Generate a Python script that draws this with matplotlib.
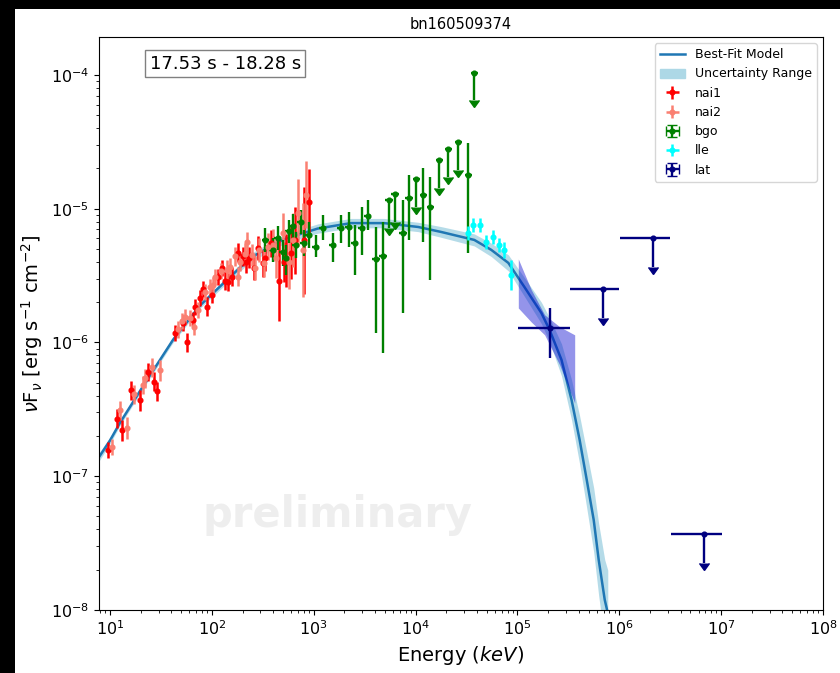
import numpy as np
import matplotlib
matplotlib.use("Agg")
import matplotlib.pyplot as plt
from matplotlib.patches import Rectangle, Patch
from matplotlib.ticker import NullFormatter, LogLocator

title = "bn160509374"
time_label = "17.53 s - 18.28 s"
watermark = "preliminary"
x_ticks = [1e1, 1e2, 1e3, 1e4, 1e5, 1e6, 1e7, 1e8]
y_ticks = [1e-8, 1e-7, 1e-6, 1e-5, 1e-4]

# ---- best-fit model ----
model_energy = [7.8, 10, 12.5, 22.1, 41.7, 77, 152, 240, 506, 1094, 2318, 4898, 10590,
                17800, 37700, 55400, 81500, 1.17e5, 1.72e5, 2.07e5, 2.71e5, 3.40e5,
                4.08e5, 4.79e5, 5.61e5, 6.28e5, 7.20e5, 7.71e5]
model_flux = [1.39e-7, 1.85e-7, 2.5e-7, 4.98e-7, 1.05e-6, 1.9e-6, 3.1e-6, 4.3e-6, 5.9e-6,
              7.1e-6, 7.8e-6, 7.8e-6, 7.3e-6, 6.7e-6, 5.84e-6, 4.92e-6, 3.93e-6, 2.60e-6,
              1.66e-6, 1.24e-6, 7.4e-7, 3.72e-7, 1.87e-7, 9.4e-8, 4.71e-8, 2.37e-8,
              1.19e-8, 9.5e-9]
model_band_dex = [0.03, 0.025, 0.02, 0.02, 0.02, 0.02, 0.025, 0.03, 0.035, 0.035, 0.035,
                  0.035, 0.035, 0.04, 0.045, 0.05, 0.06, 0.07, 0.08, 0.09, 0.12, 0.15,
                  0.18, 0.21, 0.24, 0.27, 0.3, 0.32]

# ---- nai1 ----
nai1_energy = [9.56, 11.7, 13.1, 16.1, 19.8, 23.7, 27.1, 29.0, 43.7, 52.4, 57.4, 65.7,
               68.7, 77, 82.6, 90, 101, 116, 127, 136, 145, 159, 179, 200, 214, 229, 257,
               286, 315, 336, 377, 452, 506, 530, 593, 660, 795, 890]
nai1_flux = [1.57e-7, 2.7e-7, 2.2e-7, 4.4e-7, 3.7e-7, 6.0e-7, 5.1e-7, 4.3e-7, 1.18e-6,
             1.39e-6, 1.0e-6, 1.47e-6, 1.85e-6, 2.16e-6, 2.5e-6, 1.85e-6, 2.25e-6, 3.1e-6,
             3.6e-6, 2.9e-6, 2.83e-6, 3.1e-6, 4.7e-6, 4.4e-6, 4.0e-6, 4.3e-6, 3.6e-6,
             5.1e-6, 3.9e-6, 4.28e-6, 5.5e-6, 2.9e-6, 4.0e-6, 4.1e-6, 4.7e-6, 5.8e-6,
             5.8e-6, 1.12e-5]
nai1_err_dex = [0.06, 0.07, 0.08, 0.07, 0.08, 0.07, 0.07, 0.07, 0.06, 0.06, 0.07, 0.06,
                0.06, 0.06, 0.06, 0.07, 0.06, 0.06, 0.06, 0.07, 0.07, 0.07, 0.07, 0.07,
                0.08, 0.08, 0.09, 0.09, 0.1, 0.1, 0.1, 0.3, 0.15, 0.2, 0.2, 0.25, 0.4, 0.25]

# ---- nai2 ----
nai2_energy = [10.5, 12.5, 14.7, 17.2, 21.2, 22.1, 25.9, 31.1, 46.7, 51.3, 54.9, 61.4,
               66.5, 73.7, 86.6, 96.9, 103, 108, 124, 142, 152, 170, 182, 191, 213, 223,
               250, 268, 290, 322, 353, 394, 424, 495, 567, 621, 694, 780, 836]
nai2_flux = [1.65e-7, 3.1e-7, 2.3e-7, 4.1e-7, 4.8e-7, 5.4e-7, 6.5e-7, 6.2e-7, 1.25e-6,
             1.44e-6, 1.55e-6, 1.52e-6, 1.3e-6, 1.75e-6, 2.4e-6, 2.6e-6, 2.7e-6, 3.1e-6,
             3.4e-6, 3.5e-6, 3.65e-6, 4.4e-6, 3.1e-6, 4.0e-6, 4.6e-6, 5.6e-6, 4.5e-6,
             3.6e-6, 4.9e-6, 3.9e-6, 5.2e-6, 5.36e-6, 4.28e-6, 6.6e-6, 4.0e-6, 5.84e-6,
             9.3e-6, 4.9e-6, 1.27e-5]
nai2_err_dex = [0.06, 0.07, 0.08, 0.07, 0.07, 0.07, 0.07, 0.08, 0.06, 0.06, 0.06, 0.06,
                0.06, 0.06, 0.06, 0.06, 0.06, 0.06, 0.06, 0.07, 0.07, 0.07, 0.07, 0.07,
                0.08, 0.08, 0.08, 0.09, 0.09, 0.1, 0.1, 0.12, 0.15, 0.15, 0.2, 0.2, 0.25,
                0.35, 0.25]

# ---- bgo ----
bgo_energy = [336, 394, 442, 495, 530, 567, 621, 665, 745, 797, 893, 1047, 1227, 1540,
              1845, 2212, 2535, 2970, 3404, 4083, 4786, 7534, 8630, 11860, 13900, 32900]
bgo_flux = [5.84e-6, 4.92e-6, 6.04e-6, 4.75e-6, 4.28e-6, 6.82e-6, 7.43e-6, 5.36e-6,
            7.96e-6, 5.55e-6, 6.37e-6, 5.18e-6, 7.18e-6, 5.36e-6, 7.18e-6, 7.31e-6,
            5.55e-6, 7.18e-6, 8.83e-6, 4.21e-6, 4.43e-6, 6.59e-6, 1.20e-5, 1.27e-5,
            1.03e-5, 1.79e-5]
bgo_flux_hi = [7.18e-6, 6.04e-6, 7.43e-6, 5.84e-6, 5.36e-6, 8.24e-6, 9.14e-6, 6.70e-6,
               9.8e-6, 6.94e-6, 7.96e-6, 6.37e-6, 8.98e-6, 6.59e-6, 8.98e-6, 9.46e-6,
               7.57e-6, 1.03e-5, 1.16e-5, 7.31e-6, 7.96e-6, 1.16e-5, 1.79e-5, 2.02e-5,
               1.73e-5, 3.10e-5]
bgo_flux_lo = [4.75e-6, 4.00e-6, 4.92e-6, 3.73e-6, 3.20e-6, 5.55e-6, 6.04e-6, 4.28e-6,
               6.48e-6, 4.43e-6, 5.09e-6, 4.36e-6, 5.84e-6, 4.00e-6, 5.55e-6, 5.18e-6,
               3.20e-6, 4.51e-6, 6.94e-6, 1.18e-6, 8.35e-7, 1.66e-6, 5.84e-6, 5.64e-6,
               2.93e-6, 4.67e-6]
bgo_ul_energy = [5483, 6281, 10120, 17060, 20900, 26240, 37700]
bgo_ul_flux = [1.16e-5, 1.29e-5, 1.67e-5, 2.31e-5, 2.80e-5, 3.16e-5, 1.04e-4]

# ---- lle ----
lle_energy = [32900, 36900, 43200, 49500, 58100, 66600, 74600, 87300]
lle_flux = [6.59e-6, 7.57e-6, 7.57e-6, 5.64e-6, 6.15e-6, 5.36e-6, 4.92e-6, 3.20e-6]
lle_err_dex = [0.05, 0.05, 0.05, 0.05, 0.05, 0.05, 0.06, 0.11]

# ---- lat ----
lat_energy = [2.11e5]
lat_flux = [1.28e-6]
lat_flux_hi = [1.81e-6]
lat_flux_lo = [7.66e-7]
lat_emin = [1.02e5]
lat_emax = [3.25e5]
lat_ul_energy = [6.87e5, 2.14e6, 6.8e6]
lat_ul_flux = [2.51e-6, 6.04e-6, 3.70e-8]
lat_ul_emin = [3.25e5, 1.01e6, 3.22e6]
lat_ul_emax = [9.9e5, 3.15e6, 1.02e7]

# ---- lat butterfly ----
butterfly_energy = [1.02e5, 1.37e5, 1.85e5, 2.6e5, 3.65e5]
butterfly_upper = [4.21e-6, 2.47e-6, 1.61e-6, 1.31e-6, 1.14e-6]
butterfly_lower = [1.81e-6, 1.42e-6, 1.14e-6, 6.79e-7, 3.53e-7]


def dex_err(vals, dex):
    v = np.asarray(vals, float)
    d = np.asarray(dex, float)
    return np.vstack([v - v / 10 ** d, v * 10 ** d - v])


def xdex_err(e, d):
    e = np.asarray(e, float)
    return np.vstack([e - e / 10 ** d, e * 10 ** d - e])


fig = plt.figure(figsize=(8.4, 6.73), dpi=100)
fig.patch.set_facecolor("black")
fig.add_artist(Rectangle((15 / 840, 0), 1, 1 - 9 / 673, transform=fig.transFigure,
                         facecolor="white", edgecolor="none", zorder=-10))
ax = fig.add_axes([99 / 840, 1 - 610 / 673, (823 - 99) / 840, (610 - 37) / 673])

mf = np.asarray(model_flux)
md = np.asarray(model_band_dex)
band = ax.fill_between(model_energy, mf / 10 ** md, mf * 10 ** md, color="lightblue",
                       alpha=0.9, lw=0, zorder=1)
line, = ax.plot(model_energy, model_flux, color="#1f77b4", lw=1.8, zorder=2)

eb_kw = dict(fmt="o", ms=3.4, elinewidth=1.8, zorder=3)
h_nai1 = ax.errorbar(nai1_energy, nai1_flux, xerr=xdex_err(nai1_energy, 0.02),
                     yerr=dex_err(nai1_flux, nai1_err_dex), color="red", **eb_kw)
h_nai2 = ax.errorbar(nai2_energy, nai2_flux, xerr=xdex_err(nai2_energy, 0.02),
                     yerr=dex_err(nai2_flux, nai2_err_dex), color="salmon", **eb_kw)

bf = np.asarray(bgo_flux)
bgo_all_e = np.concatenate([bgo_energy, bgo_ul_energy])
bgo_all_f = np.concatenate([bgo_flux, bgo_ul_flux])
bgo_yerr = np.vstack([
    np.concatenate([bf - np.asarray(bgo_flux_lo), 0.38 * np.asarray(bgo_ul_flux)]),
    np.concatenate([np.asarray(bgo_flux_hi) - bf, np.zeros(len(bgo_ul_flux))]),
])
bgo_uplims = np.array([False] * len(bgo_energy) + [True] * len(bgo_ul_energy))
h_bgo = ax.errorbar(bgo_all_e, bgo_all_f, xerr=xdex_err(bgo_all_e, 0.035), yerr=bgo_yerr,
                    uplims=bgo_uplims, color="green", fmt="o", ms=3.4, elinewidth=1.7,
                    zorder=3)
for cl in h_bgo[1]:
    cl.set_markersize(7)

h_lle = ax.errorbar(lle_energy, lle_flux, xerr=xdex_err(lle_energy, 0.015),
                    yerr=dex_err(lle_flux, lle_err_dex), color="cyan", **eb_kw)

ax.fill_between(butterfly_energy, butterfly_lower, butterfly_upper, color="mediumblue",
                alpha=0.42, lw=0, zorder=4)

lat_all_e = np.concatenate([lat_energy, lat_ul_energy])
lat_all_f = np.concatenate([lat_flux, lat_ul_flux])
lat_xerr = np.vstack([lat_all_e - np.concatenate([lat_emin, lat_ul_emin]),
                      np.concatenate([lat_emax, lat_ul_emax]) - lat_all_e])
lat_yerr = np.vstack([
    np.concatenate([np.asarray(lat_flux) - np.asarray(lat_flux_lo),
                    0.39 * np.asarray(lat_ul_flux)]),
    np.concatenate([np.asarray(lat_flux_hi) - np.asarray(lat_flux),
                    np.zeros(len(lat_ul_flux))]),
])
lat_uplims = np.array([False] * len(lat_energy) + [True] * len(lat_ul_energy))
h_lat = ax.errorbar(lat_all_e, lat_all_f, xerr=lat_xerr, yerr=lat_yerr, uplims=lat_uplims,
                    color="navy", fmt="o", ms=3.4, elinewidth=1.7, zorder=5)
for cl in h_lat[1]:
    cl.set_markersize(7)

ax.set_xscale("log")
ax.set_yscale("log")
ax.set_xlim(7.8, 1e8)
ax.set_ylim(1e-8, 1.92e-4)
ax.set_xticks(x_ticks)
ax.set_yticks(y_ticks)
ax.xaxis.set_minor_locator(LogLocator(base=10, subs=np.arange(2, 10), numticks=20))
ax.yaxis.set_minor_locator(LogLocator(base=10, subs=np.arange(2, 10), numticks=20))
ax.xaxis.set_minor_formatter(NullFormatter())
ax.yaxis.set_minor_formatter(NullFormatter())
ax.tick_params(labelsize=11.5)
ax.set_xlabel("Energy ($keV$)", fontsize=14)
ax.set_ylabel(r"$\nu$F$_{\nu}$ [erg s$^{-1}$ cm$^{-2}$]", fontsize=14)
ax.set_title(title, fontsize=10.5)

ax.text(0.07, 0.953, time_label, transform=ax.transAxes, fontsize=13, va="center",
        ha="left", bbox=dict(boxstyle="square,pad=0.25", facecolor="white",
                             edgecolor="gray"))
ax.text(0.33, 0.166, watermark, transform=ax.transAxes, fontsize=30, fontweight="bold",
        color="gray", alpha=0.13, ha="center", va="center", zorder=0)

band_patch = Patch(facecolor="lightblue", edgecolor="lightblue")
ax.legend([line, band_patch, h_nai1, h_nai2, h_bgo, h_lle, h_lat],
          ["Best-Fit Model", "Uncertainty Range", "nai1", "nai2", "bgo", "lle", "lat"],
          loc="upper right", fontsize=9)

fig.savefig("out.png", dpi=100)
